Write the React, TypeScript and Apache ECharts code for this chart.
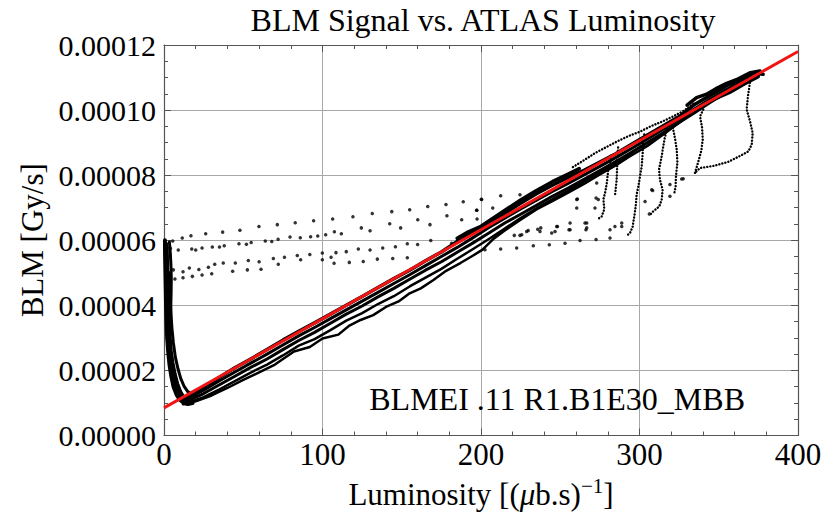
import React, { useEffect, useRef } from 'react';
import * as echarts from 'echarts';

// ---- axis setup ----
const X_MIN = 0;
const X_MAX = 400;
const X_STEP = 100;
const Y_MIN = 0; // values in units of 1e-6 Gy/s
const Y_MAX = 120;
const Y_STEP = 20;

const TITLE = 'BLM Signal vs. ATLAS Luminosity';
const Y_NAME = 'BLM [Gy/s]';
const BOX_LABEL = 'BLMEI .11 R1.B1E30_MBB';

// ---- fit line (lum, BLM in 1e-6 Gy/s) ----
const fitLine = [[0, 8.5], [400, 118.0]];

// ---- dense band ----
const bandTop = [[14, 11.8], [25, 14.8], [35, 17.9], [45, 20.9], [55, 23.6], [65, 26.4], [75, 29.3], [85, 32.0], [95, 34.6], [105, 37.3], [115, 40.0], [125, 42.7], [135, 45.5], [145, 48.2], [155, 50.8], [165, 53.7], [175, 56.4], [185, 59.6], [195, 62.6], [205, 65.6], [215, 68.3], [225, 71.4], [235, 74.3], [245, 76.9], [255, 79.3], [265, 81.5], [275, 84.0], [285, 86.6], [295, 89.5], [305, 92.3], [315, 95.2], [325, 98.0], [335, 101.8], [345, 104.6], [355, 107.5], [365, 109.6], [372, 111.3], [378, 111.0]];
const bandUpper = [[14, 11.2], [25, 13.9], [35, 16.8], [45, 19.6], [55, 22.3], [65, 25.0], [75, 27.8], [85, 30.6], [95, 33.2], [105, 35.9], [115, 38.6], [125, 41.3], [135, 44.0], [145, 46.7], [155, 49.4], [165, 52.2], [175, 55.0], [185, 57.8], [195, 60.8], [205, 63.9], [215, 66.8], [225, 69.6], [235, 72.3], [245, 75.0], [255, 77.5], [265, 80.1], [275, 82.7], [285, 85.4], [295, 88.2], [305, 91.1], [315, 94.1], [325, 97.1], [335, 100.5], [345, 103.5], [355, 106.4], [365, 108.9], [375, 110.7]];
const bandMid = [[15, 10.6], [25, 12.9], [35, 15.6], [45, 18.3], [55, 21.0], [65, 23.5], [75, 26.4], [85, 29.2], [95, 31.7], [105, 34.5], [115, 37.3], [125, 39.8], [135, 42.6], [145, 45.2], [155, 48.0], [165, 50.8], [175, 53.4], [185, 56.3], [195, 59.2], [205, 62.2], [215, 65.3], [225, 68.0], [235, 70.7], [245, 73.5], [255, 76.0], [265, 78.7], [275, 81.4], [285, 84.2], [295, 87.0], [305, 90.0], [315, 93.0], [325, 96.2], [335, 99.3], [345, 102.5], [355, 105.4], [365, 108.2], [375, 110.2]];
const bandLow2 = [[15, 10.0], [25, 11.8], [35, 14.2], [45, 16.8], [55, 19.4], [65, 21.8], [75, 24.6], [85, 27.6], [95, 29.6], [105, 32.4], [115, 35.3], [125, 37.6], [135, 40.4], [145, 42.8], [155, 45.8], [165, 48.5], [175, 51.2], [185, 54.3], [195, 57.3], [205, 60.4], [215, 63.6], [225, 66.8], [235, 69.8], [245, 72.6], [255, 75.2], [265, 78.0], [275, 80.8], [285, 83.6], [295, 86.4]];
const bandLow = [[12, 9.6], [20, 10.5], [30, 12.3], [40, 14.6], [50, 17.1], [60, 19.4], [70, 21.8], [82, 25.8], [92, 27.2], [100, 29.8], [110, 31.0], [117, 33.8], [124, 35.5], [132, 37.0], [140, 39.5], [148, 41.2], [155, 43.7], [162, 45.2], [170, 47.8], [178, 50.6], [187, 53.0], [194, 55.0], [201, 57.1], [208, 60.5], [215, 63.0], [225, 66.3], [235, 69.5], [245, 72.0], [255, 74.6], [265, 77.3], [275, 80.2], [285, 83.0], [294, 85.8], [305, 89.0], [315, 92.5], [326, 96.5], [336, 100.2], [346, 103.0], [357, 105.3], [366, 107.8], [374, 109.9]];
const blobAboveMid = [[185, 60.6], [192, 62.6], [200, 64.3], [225, 72.4], [235, 75.3], [245, 78.0], [255, 80.3], [262, 82.0]];
const blobAboveHigh = [[330, 101.5], [336, 103.8], [342, 104.8], [348, 106.5], [355, 108.2], [362, 109.5], [370, 111.5], [376, 112.0]];

// ---- initial spike near zero luminosity ----
const spikeL = [[0.6, 60], [0.7, 55], [0.9, 50], [1.1, 45], [1.3, 40], [1.6, 35], [2.0, 30], [2.6, 26], [3.4, 22], [4.5, 18.5], [6, 15], [8, 12.5], [10, 11], [12.5, 10], [15, 9.7], [18, 10.0]];
const spikeL2 = [[1.4, 59], [1.6, 54], [1.8, 49], [2.0, 44], [2.3, 39], [2.7, 34], [3.2, 29.5], [3.9, 25.5], [4.9, 21.5], [6.2, 18], [7.8, 15], [9.8, 12.6], [12.2, 11.0], [15, 10.3]];
const spikeM = [[2.0, 58], [2.3, 52], [2.6, 46], [2.9, 40], [3.3, 35], [3.9, 30], [4.6, 26], [5.6, 22.5], [7, 19], [8.6, 16], [10.5, 13.5], [12.5, 11.8], [15, 10.8]];
const spikeW = [[3.4, 59.5], [4.0, 56], [4.4, 52], [4.6, 48], [4.5, 44], [4.3, 40], [4.2, 36], [4.6, 32]];
const spikeR = [[3.4, 50], [3.8, 44], [4.3, 38], [5.0, 33], [5.9, 28.5], [7.2, 24], [8.8, 20.5], [10.6, 17.5], [12.6, 15.2], [15, 13.5], [18, 12.5], [21, 12.2]];

// ---- dense dotted tracks (end-of-fill drops) ----
const thinUpper = [[258, 82.5], [265, 84.6], [272, 86.8], [279, 88.6], [286, 90.4], [293, 92.0], [300, 93.3], [307, 95.0], [314, 96.4], [321, 98.0], [328, 99.8], [335, 102.3]];
const trackE = [[369.7, 108.4], [368.5, 104.5], [367.6, 100.2], [369.7, 96.6], [371.4, 93.0], [370.8, 89.4], [368.7, 87.3], [363.0, 85.8], [356.0, 84.1], [347.2, 82.9], [338.2, 82.2], [335.0, 80.7]];
const trackF = [[335.0, 80.7], [337.0, 84.0], [339.0, 87.5], [339.9, 90.9], [339.5, 94.5], [338.2, 98.1], [340.3, 100.2]];
const trackG = [[320.5, 96.5], [321.3, 94.0], [322.5, 91.0], [323.5, 87.8], [323.9, 83.8], [323.0, 79.6], [322.8, 76.6], [321.8, 74.0]];
const trackH = [[317.5, 96.0], [317.2, 94.0], [315.7, 90.9], [314.0, 85.8], [312.3, 81.7], [312.9, 78.6], [314.6, 75.5], [314.0, 72.5], [312.5, 70.4], [308.7, 68.9], [306.6, 67.8]];
const trackI = [[303.0, 92.5], [302.4, 90.9], [302.0, 86.8], [301.4, 82.7], [300.3, 79.6], [299.3, 76.6], [298.2, 74.0], [297.6, 70.4], [296.7, 67.3], [295.7, 64.2], [294.0, 62.2], [291.9, 61.4]];
const trackJ = [[282.0, 86.0], [281.5, 84.0], [280.3, 81.7], [279.5, 78.0], [278.5, 75.0], [277.2, 72.5], [277.8, 69.5], [276.1, 67.3], [273.0, 66.3]];
const trackK = [[286.5, 88.5], [286.0, 84.0], [285.6, 78.6], [284.5, 73.5]];

// ---- sparse dotted tracks ----
const trackA = [[5.5, 59.8], [11.5, 60.7], [17.0, 61.4], [26.3, 62.0], [37.0, 62.5], [47.9, 63.1], [59.9, 64.2], [71.5, 64.8], [82.8, 65.4], [94.4, 66.0], [106.4, 66.5], [119.2, 67.2], [131.4, 68.2], [143.7, 68.8], [155.0, 69.4], [166.4, 70.4], [177.9, 71.0], [188.8, 71.8], [200.2, 72.6], [212.4, 73.7], [224.6, 74.0]];
const trackB = [[4.0, 57.5], [9.0, 57.0], [17.5, 57.3], [24.0, 57.6], [30.5, 57.9], [38.0, 58.3], [47.3, 58.9], [55.0, 59.3], [63.9, 59.8], [72.0, 60.3], [79.5, 61.0], [92.5, 61.1], [102.0, 61.7], [107.5, 62.6], [124.5, 63.8], [142.4, 65.1], [160.1, 66.3], [178.5, 67.5], [197.3, 69.2], [207.4, 69.9]];
const trackB2 = [[20, 57.0], [35, 57.9], [52, 58.8], [68, 59.6], [86, 60.8], [97, 61.3], [111.9, 62.0], [130.0, 62.9], [149.3, 63.8], [167.8, 64.8], [187.8, 66.3], [197.5, 66.5]];
const trackC = [[5.9, 50.9], [16.0, 51.5], [28.0, 51.7], [37.4, 53.0], [53.2, 53.8], [69.0, 54.4], [84.1, 55.3], [99.9, 56.1], [108.5, 56.2], [122.6, 57.3], [138.0, 57.6], [153.5, 58.9], [168.3, 59.9], [181.5, 59.1]];
const trackC2 = [[12, 50.3], [22, 51.0], [32, 52.6], [45, 53.0], [60, 53.4], [76, 54.8], [92, 55.6], [115, 56.5], [130, 57.0], [146, 58.0], [160, 58.7]];
const trackD = [[6.9, 48.1], [12.0, 48.5], [17.9, 48.9], [24.0, 49.3], [30.1, 49.7], [43.3, 50.5], [52.6, 50.9], [61.2, 51.1], [72.1, 52.6], [86.2, 54.0], [99.9, 54.0], [105.4, 54.8], [107.3, 52.9], [116.9, 53.2], [125.7, 53.5], [134.6, 54.2], [144.3, 54.4], [153.5, 54.6]];
const trackLow = [[202.5, 57.1], [212.4, 57.3], [222.5, 57.6], [233.0, 58.3], [243.1, 58.6], [253.0, 59.1], [262.5, 59.9], [272.6, 60.2], [281.4, 60.7]];
const looseDots = [[273.0, 77.6], [274.0, 72.5], [271.9, 69.9], [266.7, 65.3], [266.7, 63.8], [260.4, 72.5], [260.4, 69.9], [256.2, 63.2], [247.8, 64.2], [244.6, 62.2], [237.7, 63.8], [229.8, 63.0], [225.7, 61.7], [200.4, 72.5], [197.3, 69.2], [288.8, 65.3], [288.8, 64.2], [284.5, 64.2], [281.4, 63.2], [272.6, 73.0], [265.6, 65.3], [266.2, 63.2], [260.8, 72.7], [255.5, 63.2], [256.2, 65.3], [248.2, 64.2], [246.7, 62.7], [237.2, 62.7], [235.8, 63.4], [228.8, 62.7], [224.6, 61.5], [221.0, 61.5], [307.7, 75.5], [303.5, 71.9], [319.2, 77.1], [319.2, 73.5], [327.6, 78.9], [306.2, 68.1], [308.3, 75.3], [326.6, 78.8]];

const FONT = '"Liberation Serif", "Times New Roman", Times, serif';

export default function App() {
  const ref = useRef<HTMLDivElement>(null);

  useEffect(() => {
    const chart = echarts.init(ref.current!, undefined, { renderer: 'svg' });

    const solid = (data: number[][], width: number) => ({
      type: 'line',
      data,
      symbol: 'none',
      showSymbol: false,
      silent: true,
      lineStyle: { color: '#000', width, join: 'round', cap: 'round' },
      z: 2,
    });
    const dotted = (data: number[][]) => ({
      type: 'line',
      data,
      symbol: 'none',
      showSymbol: false,
      silent: true,
      lineStyle: { color: '#000', width: 2.4, type: [0.1, 3], cap: 'round' },
      z: 2,
    });
    const dots = (data: number[][]) => ({
      type: 'scatter',
      data,
      symbol: 'circle',
      symbolSize: 3.5,
      silent: true,
      itemStyle: { color: '#000' },
      z: 2,
    });

    const axisLine = { show: true, onZero: false, lineStyle: { color: '#555', width: 1.2 } };
    const tick = { show: true, inside: true, length: 7, lineStyle: { color: '#555', width: 1 } };
    const minorX = { show: true, splitNumber: 5, length: 4, lineStyle: { color: '#555', width: 1 } };
    const minorY = { show: true, splitNumber: 4, length: 4, lineStyle: { color: '#555', width: 1 } };

    const option: any = {
      animation: false,
      backgroundColor: '#fff',
      title: {
        text: TITLE,
        left: 478,
        textAlign: 'center',
        top: -1,
        textStyle: { fontFamily: FONT, fontSize: 32, fontWeight: 'normal', color: '#000' },
      },
      grid: { left: 164, right: 36, top: 45, bottom: 83.5, containLabel: false, outerBoundsMode: 'none' },
      xAxis: [
        {
          type: 'value',
          min: X_MIN,
          max: X_MAX,
          interval: X_STEP,
          position: 'bottom',
          axisLine,
          axisTick: tick,
          minorTick: minorX,
          splitLine: { show: true, lineStyle: { color: '#a8a8a8', width: 1 } },
          axisLabel: { fontFamily: FONT, fontSize: 31, color: '#000', margin: 8, lineHeight: 22 },
          name: '{t|Luminosity [(}{i|μ}{t|b.s)}{s|−1}{t|]}',
          nameLocation: 'middle',
          nameGap: 40,
          nameTextStyle: {
            rich: {
              t: { fontFamily: FONT, fontSize: 31, color: '#000' },
              i: { fontFamily: FONT, fontSize: 31, fontStyle: 'italic', color: '#000' },
              s: { fontFamily: FONT, fontSize: 21, color: '#000', padding: [0, 0, 16, 0] },
            },
          },
        },
        {
          type: 'value',
          min: X_MIN,
          max: X_MAX,
          interval: X_STEP,
          position: 'top',
          axisLine,
          axisTick: tick,
          minorTick: minorX,
          splitLine: { show: false },
          axisLabel: { show: false },
        },
      ],
      yAxis: [
        {
          type: 'value',
          min: Y_MIN,
          max: Y_MAX,
          interval: Y_STEP,
          position: 'left',
          axisLine,
          axisTick: tick,
          minorTick: minorY,
          splitLine: { show: true, lineStyle: { color: '#a8a8a8', width: 1 } },
          axisLabel: {
            fontFamily: FONT,
            fontSize: 30,
            color: '#000',
            margin: 8,
            formatter: (v: number) => (v / 1e6).toFixed(5),
          },
          name: Y_NAME,
          nameLocation: 'middle',
          nameRotate: 90,
          nameGap: 116,
          nameTextStyle: { fontFamily: FONT, fontSize: 31, color: '#000' },
        },
        {
          type: 'value',
          min: Y_MIN,
          max: Y_MAX,
          interval: Y_STEP,
          position: 'right',
          axisLine,
          axisTick: tick,
          minorTick: minorY,
          splitLine: { show: false },
          axisLabel: { show: false },
        },
      ],
      graphic: [
        {
          type: 'text',
          right: 89,
          top: 383,
          style: { text: BOX_LABEL, fontFamily: FONT, fontSize: 32, fill: '#000' },
          z: 10,
        },
      ],
      series: [
        dots(trackA),
        dots(trackB),
        dots(trackB2),
        dots(trackC),
        dots(trackC2),
        dots(trackD),
        dots(trackLow),
        dots(looseDots),
        dotted(thinUpper),
        dotted(trackE),
        dotted(trackF),
        dotted(trackG),
        dotted(trackH),
        dotted(trackI),
        dotted(trackJ),
        dotted(trackK),
        solid(bandLow, 2.5),
        solid(bandLow2, 2.5),
        solid(bandMid, 3),
        solid(bandUpper, 3),
        solid(bandTop, 3.5),
        solid(blobAboveMid, 3.5),
        solid(blobAboveHigh, 3.5),
        solid(spikeL, 4),
        solid(spikeL2, 3.5),
        solid(spikeM, 3),
        solid(spikeW, 3),
        solid(spikeR, 3),
        {
          type: 'line',
          data: fitLine,
          symbol: 'none',
          showSymbol: false,
          silent: true,
          lineStyle: { color: '#f01414', width: 3 },
          z: 5,
        },
      ],
    };

    chart.setOption(option);
    return () => chart.dispose();
  }, []);

  return <div ref={ref} style={{ position: 'absolute', left: 0, top: 0, width: 834, height: 519 }} />;
}
